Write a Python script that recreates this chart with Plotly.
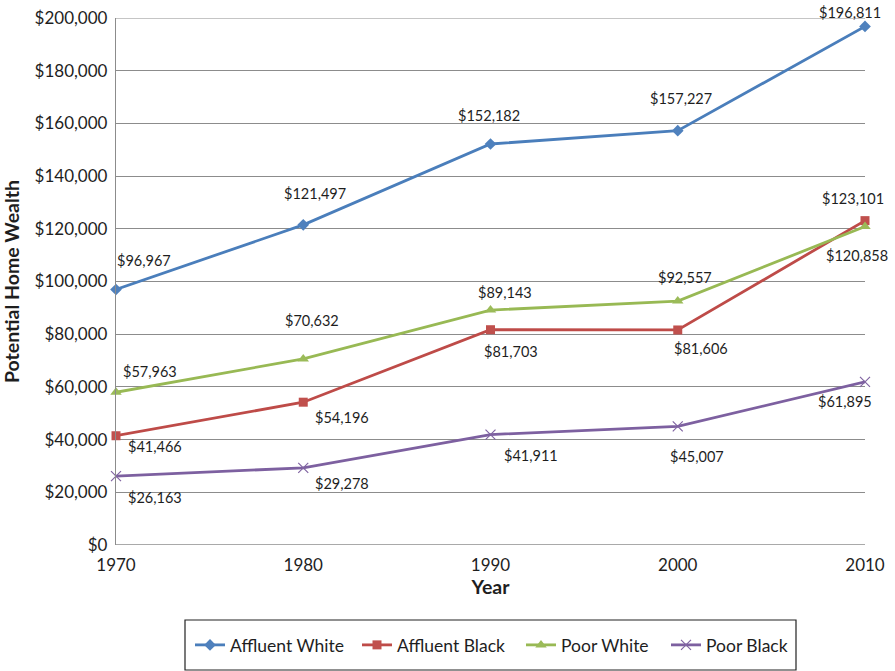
import plotly.graph_objects as go

years = [1970, 1980, 1990, 2000, 2010]
affluent_white = [96967, 121497, 152182, 157227, 196811]
affluent_black = [41466, 54196, 81703, 81606, 123101]
poor_white = [57963, 70632, 89143, 92557, 120858]
poor_black = [26163, 29278, 41911, 45007, 61895]
series_names = ["Affluent White", "Affluent Black", "Poor White", "Poor Black"]
y_ticks = [0, 20000, 40000, 60000, 80000, 100000, 120000, 140000, 160000, 180000, 200000]

# styles
styles = {
    "Affluent White": dict(line="#4A7EBB", marker="#4F81BD", symbol="diamond", size=9, mline=0),
    "Affluent Black": dict(line="#BE4B48", marker="#C0504D", symbol="square", size=9, mline=0),
    "Poor White": dict(line="#98B954", marker="#9BBB59", symbol="triangle-up", size=10, mline=0),
    "Poor Black": dict(line="#7D60A0", marker="#8064A2", symbol="x-thin-open", size=10, mline=1.2),
}
# data-label pixel offsets (dx right, dy down)
label_offsets = {
    "Affluent White": [(28, -29), (12, -31), (-2, -29), (3, -32), (-15, -14)],
    "Affluent Black": [(39, 11), (39, 15), (20, 22), (23, 19), (-12, -22)],
    "Poor White": [(34, -21), (9, -38), (14, -18), (7, -24), (-8, 29)],
    "Poor Black": [(39, 21), (39, 16), (40, 21), (19, 30), (-20, 20)],
}

data = [affluent_white, affluent_black, poor_white, poor_black]
FONT = "Lato, 'Open Sans', sans-serif"
TXT = "#1e1e1e"
GRID = "#8C8C8C"

W, H = 895, 671
SCR_L, SCR_R, SCR_T, SCR_B = 116, 865, 18, 545
L, T = SCR_L, SCR_T
R, B = W - SCR_R, H - SCR_B
PW, PH = W - L - R, H - T - B

legend_x_px = [195, 362, 526, 671]   # px of legend symbol starts
legend_y_px = 645
legend_box = (185, 796, 620, 670)


def px_x(px):
    return (px - L) / PW


def px_y(py):
    return (H - B - py) / PH


fig = go.Figure()
annotations = []
legend_layouts = {}
for i, (name, vals) in enumerate(zip(series_names, data)):
    s = styles[name]
    lg = "legend" if i == 0 else f"legend{i + 1}"
    fig.add_trace(go.Scatter(
        x=years, y=vals, name=name, mode="lines+markers",
        line=dict(color=s["line"], width=2.8),
        marker=dict(symbol=s["symbol"], size=s["size"], color=s["marker"],
                    line=dict(color=s["marker"], width=s["mline"])),
        cliponaxis=False, legend=lg,
    ))
    legend_layouts[lg] = dict(
        orientation="h", x=px_x(legend_x_px[i] - 5), xanchor="left",
        y=px_y(legend_y_px), yanchor="middle",
        font=dict(family=FONT, size=17.5, color=TXT),
        bgcolor="rgba(0,0,0,0)", borderwidth=0,
    )
    for (xv, yv), (dx, dy) in zip(zip(years, vals), label_offsets[name]):
        annotations.append(dict(
            x=xv, y=yv, xref="x", yref="y", text=f"${yv:,}", showarrow=False,
            xshift=dx, yshift=-dy, font=dict(family=FONT, size=14.5, color=TXT),
        ))

shapes = [dict(type="rect", xref="paper", yref="paper",
               x0=px_x(legend_box[0]), x1=px_x(legend_box[1]),
               y0=px_y(legend_box[3]), y1=px_y(legend_box[2]),
               line=dict(color="#222", width=1.2), fillcolor="rgba(0,0,0,0)")]

fig.update_layout(
    width=W, height=H,
    margin=dict(l=L, r=R, t=T, b=B, autoexpand=False),
    plot_bgcolor="white", paper_bgcolor="white",
    font=dict(family=FONT, size=17, color=TXT),
    showlegend=True,
    annotations=annotations,
    shapes=shapes,
    xaxis=dict(range=[1970, 2010], tickvals=years, ticktext=[str(y) for y in years],
               showgrid=False, zeroline=False, showline=False, ticks="",
               ticklabelstandoff=8, automargin=False, ticklabeloverflow="allow",
               tickfont=dict(family=FONT, size=17, color=TXT),
               title=dict(text="<b>Year</b>", font=dict(family=FONT, size=19.5, color=TXT), standoff=6)),
    yaxis=dict(range=[0, 200000], tickvals=y_ticks,
               ticktext=[f"${v:,}" for v in y_ticks],
               showgrid=True, gridcolor=GRID, gridwidth=1,
               zeroline=False, showline=True, linecolor=GRID, linewidth=1.3,
               ticks="", ticklabelstandoff=4, automargin=False, ticklabeloverflow="allow",
               tickfont=dict(family=FONT, size=17, color=TXT),
               title=dict(text="<b>Potential Home Wealth</b>", font=dict(family=FONT, size=19.5, color=TXT), standoff=20)),
    **legend_layouts,
)
# baseline and top gridline (edges of the value range)
fig.add_hline(y=y_ticks[0], line=dict(color=GRID, width=1.3), layer="below")
fig.add_hline(y=y_ticks[-1], line=dict(color=GRID, width=1), layer="below")

fig.write_html("out.html", config={"displayModeBar": False},
               post_script="document.body.style.margin='0px';")
